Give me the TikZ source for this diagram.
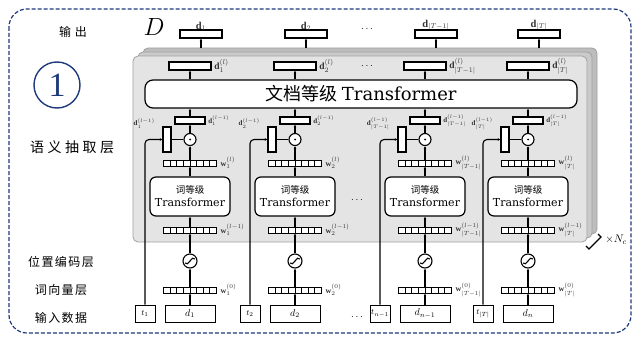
\documentclass[tikz,border=0pt]{standalone}
\usepackage{fontspec}
\setmainfont{Liberation Serif}
\newfontfamily\cjk{Noto Sans CJK SC}
\newfontfamily\dserif{DejaVu Serif}
\usetikzlibrary{arrows.meta}
\definecolor{navy}{HTML}{1F3A7A}
\definecolor{layerback}{HTML}{BDBDBD}
\definecolor{layermid}{HTML}{CACACA}
\definecolor{layerfront}{HTML}{E4E4E4}
\definecolor{layeredge}{HTML}{A0A0A0}
\begin{document}
\begin{tikzpicture}[x=1pt,y=-1pt,
  box/.style={draw, line width=1.1pt, fill=white, inner sep=0pt},
  seg/.style={draw, line width=1pt, fill=white, inner sep=0pt,
    minimum width=53pt, minimum height=6pt,
    path picture={\foreach \k in {1,...,7}{
      \draw[line width=0.9pt] ([xshift=\k*6.625pt]path picture bounding box.south west)
        -- ([xshift=\k*6.625pt]path picture bounding box.north west);}}},
  tbox/.style={draw, line width=1.2pt, fill=white, rounded corners=6pt, inner sep=0pt},
  conn/.style={line width=1.1pt, -{Latex[length=2.6pt,width=2.8pt]}},
  lbl/.style={inner sep=0.5pt, text=black!80},
  side/.style={inner sep=0pt}]
\useasboundingbox (0,0) rectangle (636,337);

% outer frame and marker
\draw[navy, line width=1.2pt, dash pattern=on 4pt off 2pt, rounded corners=18pt]
  (9,9) rectangle (631,333);
\node[circle, draw=navy, line width=1.4pt, minimum size=46pt, inner sep=0pt,
  text=navy, font=\fontsize{34}{34}\selectfont] (mark) at (57,85) {1};

% row captions
\node[side, font=\cjk\fontsize{12}{12}\selectfont\addfontfeature{LetterSpace=30}] (capout) at (73,32) {输出};
\node[side, font=\cjk\fontsize{14}{14}\selectfont\addfontfeature{LetterSpace=25}] (capsem) at (72,147) {语义抽取层};
\node[side, font=\cjk\fontsize{12}{12}\selectfont\addfontfeature{LetterSpace=12}] (cappos) at (61,262) {位置编码层};
\node[side, font=\cjk\fontsize{12}{12}\selectfont\addfontfeature{LetterSpace=12}] (capvec) at (61,290) {词向量层};
\node[side, font=\cjk\fontsize{12}{12}\selectfont\addfontfeature{LetterSpace=12}] (capin) at (61,318) {输入数据};

\node[inner sep=0pt, font=\fontsize{26}{26}\selectfont] (bigD) at (154,27) {$D$};

% stacked layer block
\draw[draw=layeredge, fill=layerback, line width=0.8pt, rounded corners=5pt] (143,48) rectangle (597,234);
\draw[draw=layeredge, fill=layermid, line width=0.8pt, rounded corners=5pt] (138,52) rectangle (592,238);
\draw[draw=layeredge, fill=layerfront, line width=0.8pt, rounded corners=5pt] (133,56) rectangle (587,242);

% repetition mark
\draw[line width=1.3pt] (586,246) -- (589,249) -- (601,237) -- (598,234);
\node[inner sep=0pt, font=\fontsize{11}{11}\selectfont] (rep) at (616,240) {$\times N_c$};

% document-level transformer
\node[tbox, rounded corners=8pt, minimum width=432pt, minimum height=28pt] (doc) at (361,94)
  {\fontsize{18}{18}\selectfont{\cjk 文档等级} {\dserif Transformer}};

% ellipses between columns
\node[inner sep=0pt] (dots1) at (367,29) {$\cdots$};
\node[inner sep=0pt] (dots2) at (367,66) {$\cdots$};
\node[inner sep=0pt] (dots3) at (357,200) {$\cdots$};
\node[inner sep=0pt] (dots4) at (357,317) {$\cdots$};

\foreach \c/\s/\tt/\dd [count=\i] in
  {190/1/t_1/d_1, 295/2/t_2/d_2, 425/{|T-1|}/t_{n-1}/d_{n-1}, 528/{|T|}/t_{|T|}/d_n}{
  % boxes of one column
  \node[box, minimum width=42pt, minimum height=8pt] (out\i) at (\c+11,34) {};
  \node[lbl, anchor=south, font=\fontsize{10.5}{10.5}\selectfont] (lout\i) at ([yshift=-2pt]out\i.north) {$\mathbf{d}_{\s}$};
  \coordinate (top\i) at (\c+11,48);
  \node[box, minimum width=42pt, minimum height=8pt] (dl\i) at (\c,66) {};
  \node[lbl, anchor=west, font=\fontsize{9.5}{9.5}\selectfont] (ldl\i) at ([xshift=2pt]dl\i.east) {$\mathbf{d}_{\s}^{(l)}$};
  \node[box, minimum width=30pt, minimum height=7pt] (sb\i) at (\c,120.5) {};
  \node[lbl, anchor=west, font=\fontsize{7}{7}\selectfont] (lsb\i) at ([xshift=2pt]sb\i.east) {$\mathbf{d}_{\s}^{(l-1)}$};
  \node[circle, draw, line width=1.1pt, fill=white, minimum size=12pt, inner sep=0pt] (mul\i) at (\c,139.5) {};
  \fill (mul\i) circle (1pt);
  \node[box, minimum width=8pt, minimum height=25pt] (bar\i) at (\c-23,139.5) {};
  \node[lbl, anchor=east, font=\fontsize{7}{7}\selectfont] (lbar\i) at ([xshift=-7pt,yshift=3pt]bar\i.north west) {$\mathbf{d}_{\s}^{(l-1)}$};
  \node[seg] (wl\i) at (\c,163) {};
  \node[lbl, anchor=west, font=\fontsize{8}{8}\selectfont] (lwl\i) at ([xshift=3pt]wl\i.east) {$\mathbf{w}_{\s}^{(l)}$};
  \node[tbox, minimum width=80pt, minimum height=39pt, align=center] (tr\i) at (\c,196.5)
    {{\cjk\fontsize{9.5}{11}\selectfont 词等级}\\[1pt]{\dserif\fontsize{11}{11}\selectfont Transformer}};
  \node[seg] (wm\i) at (\c,230) {};
  \node[lbl, anchor=west, font=\fontsize{8}{8}\selectfont] (lwm\i) at ([xshift=3pt]wm\i.east) {$\mathbf{w}_{\s}^{(l-1)}$};
  \node[circle, draw, line width=1.1pt, fill=white, minimum size=14pt, inner sep=0pt] (pe\i) at (\c,261) {};
  \draw[line width=1.1pt] ([xshift=-5pt,yshift=-2pt]pe\i.center)
    .. controls ([xshift=-2pt,yshift=-7pt]pe\i.center) and ([xshift=2pt,yshift=7pt]pe\i.center)
    .. ([xshift=5pt,yshift=2pt]pe\i.center);
  \node[seg] (w0\i) at (\c,290) {};
  \node[lbl, anchor=west, font=\fontsize{8}{8}\selectfont] (lw0\i) at ([xshift=3pt]w0\i.east) {$\mathbf{w}_{\s}^{(0)}$};
  \node[box, minimum width=50pt, minimum height=17pt, line width=1pt, font=\fontsize{10}{10}\selectfont] (in\i) at (\c,313.5) {$\dd$};
  \node[box, minimum width=20pt, minimum height=17pt, line width=1pt, font=\fontsize{8}{8}\selectfont] (t\i) at (\c-45,313.5) {$\tt$};
  % connectors of one column
  \draw[conn] (top\i) -- (out\i.south);
  \draw[conn] (dl\i.south |- doc.north) -- (dl\i.south);
  \draw[conn] (sb\i.north) -- (sb\i.north |- doc.south);
  \draw[conn] (mul\i.north) -- (sb\i.south);
  \draw[line width=1.1pt] (bar\i.east) -- (mul\i.west);
  \draw[conn] (wl\i.north) -- (mul\i.south);
  \draw[conn] (tr\i.north) -- (wl\i.south);
  \draw[conn] (wm\i.north) -- (tr\i.south);
  \draw[conn] (pe\i.north) -- (wm\i.south);
  \draw[conn] (w0\i.north) -- (pe\i.south);
  \draw[conn] (in\i.north) -- (w0\i.south);
  \draw[conn, rounded corners=4pt] (t\i.north) |- (bar\i.west);
}
\end{tikzpicture}
\end{document}
